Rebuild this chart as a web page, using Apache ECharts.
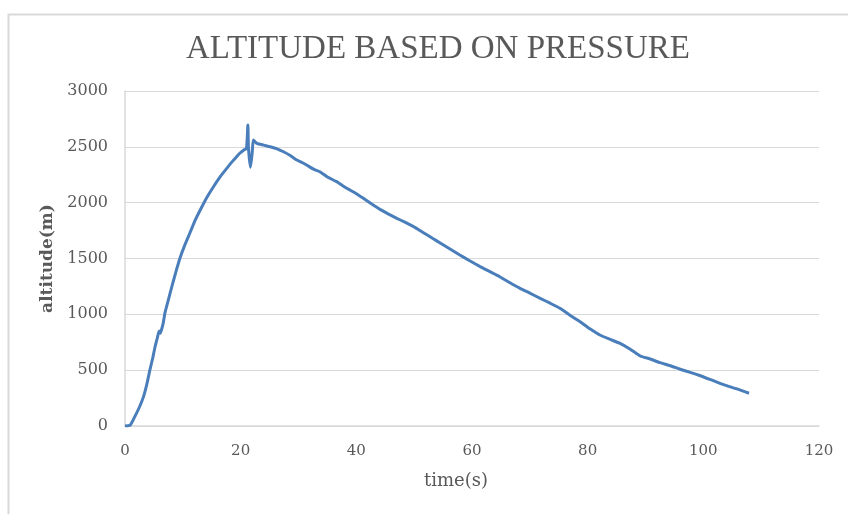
<!DOCTYPE html>
<html>
<head>
<meta charset="utf-8">
<script src="https://cdn.jsdelivr.net/npm/echarts@6/dist/echarts.min.js"></script>
<style>
  html, body { margin: 0; padding: 0; background: #ffffff; }
  #chart { width: 848px; height: 514px; }
</style>
</head>
<body>
<div id="chart"></div>
<script>
// Flight altitude derived from barometric pressure
const timeSec = [
  0.0, 0.9, 1.7, 2.5, 3.2, 3.8, 4.3, 4.8, 5.2, 5.6, 5.9, 6.1, 6.3, 6.6, 6.9,
  7.5, 8.1, 8.8, 9.5, 10.3, 11.2, 12.2, 13.3, 14.3, 15.3, 16.5, 17.6, 18.5,
  19.3, 19.9, 20.5, 21.0, 21.25, 21.35, 21.7, 22.0, 22.2, 22.8, 24.0, 25.1,
  26.3, 27.4, 28.5, 29.7, 30.6, 31.4, 32.6, 33.7, 35.0, 36.6, 37.7, 38.9,
  40.0, 41.2, 42.6, 44.1, 45.5, 47.0, 48.4, 49.9, 51.0, 52.2, 53.3, 54.5,
  56.2, 57.9, 59.6, 61.4, 63.1, 64.8, 66.5, 68.3, 70.0, 71.8, 73.5, 75.2,
  77.0, 78.7, 80.4, 82.1, 83.9, 85.6, 87.3, 89.1, 90.8, 92.5, 94.3, 96.0,
  97.6, 99.1, 101.5, 103.6, 105.8, 107.9
];
const altitudeM = [
  0, 8, 84, 170, 263, 380, 500, 610, 710, 790, 850, 830, 860, 919, 1011,
  1130, 1248, 1380, 1502, 1615, 1726, 1850, 1964, 2060, 2143, 2235, 2307,
  2365, 2412, 2445, 2470, 2486, 2695, 2490, 2317, 2450, 2561, 2531, 2515,
  2501, 2482, 2456, 2425, 2382, 2360, 2337, 2300, 2277, 2230, 2188, 2150,
  2113, 2080, 2039, 1990, 1940, 1900, 1860, 1825, 1785, 1750, 1712, 1677,
  1639, 1585, 1531, 1480, 1427, 1382, 1337, 1285, 1233, 1190, 1143, 1100,
  1054, 990, 934, 870, 815, 775, 740, 690, 627, 600, 567, 540, 508,
  482, 457, 410, 368, 332, 293
];
const xTicks = [0, 20, 40, 60, 80, 100, 120];
const yTicks = [0, 500, 1000, 1500, 2000, 2500, 3000];

const points = timeSec.map((t, i) => [t, altitudeM[i]]);

const titleFont = '"Liberation Serif", "DejaVu Serif", serif';
const serif = '"DejaVu Serif", "Liberation Serif", serif';
const labelColor = '#595959';
const gridColor = '#d9d9d9';

const chart = echarts.init(document.getElementById('chart'), null, { renderer: 'canvas' });
chart.setOption({
  backgroundColor: '#ffffff',
  animation: false,
  title: {
    text: 'ALTITUDE BASED ON PRESSURE',
    left: 181,
    top: 28,
    textStyle: { fontFamily: titleFont, fontSize: 33, fontWeight: 'normal', color: labelColor }
  },
  graphic: [{
    type: 'rect',
    left: 6, top: 12,
    shape: { width: 900, height: 600 },
    style: { fill: 'none', stroke: gridColor, lineWidth: 2 },
    silent: true
  }],
  grid: { left: 125, right: 29, top: 91, bottom: 88 },
  xAxis: {
    type: 'value',
    min: xTicks[0], max: xTicks[xTicks.length - 1], interval: 20,
    name: 'time(s)',
    nameLocation: 'middle',
    nameGap: 46,
    nameTextStyle: { fontFamily: serif, fontSize: 18, color: labelColor, padding: [0, 32, 0, 0] },
    axisLine: { show: true, lineStyle: { color: gridColor, width: 1.5 } },
    axisTick: { show: false },
    axisLabel: { margin: 18, fontFamily: serif, fontSize: 15, color: labelColor,
                 formatter: v => String(v) },
    splitLine: { show: false }
  },
  yAxis: {
    type: 'value',
    min: yTicks[0], max: yTicks[yTicks.length - 1], interval: 500,
    name: 'altitude(m)',
    nameLocation: 'middle',
    nameGap: 68,
    nameTextStyle: { fontFamily: serif, fontSize: 17, fontWeight: 'bold', color: labelColor },
    axisLine: { show: true, lineStyle: { color: gridColor, width: 1.5 } },
    axisTick: { show: false },
    axisLabel: { margin: 17, fontFamily: serif, fontSize: 16, color: labelColor,
                 formatter: v => String(v) },
    splitLine: { show: true, lineStyle: { color: gridColor, width: 1.2 } }
  },
  series: [{
    type: 'line',
    data: points,
    showSymbol: false,
    smooth: 0.2,
    lineStyle: { color: '#4a7ebb', width: 3 },
    itemStyle: { color: '#4a7ebb' }
  }]
});
</script>
</body>
</html>
